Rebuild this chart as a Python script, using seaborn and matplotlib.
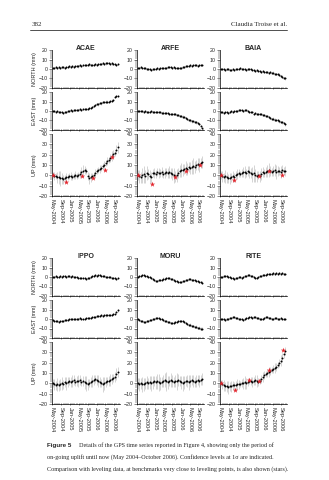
import numpy as np
import pandas as pd
import matplotlib
matplotlib.use("Agg")
import matplotlib.pyplot as plt
import matplotlib.dates as mdates
from matplotlib.ticker import MultipleLocator
from matplotlib.lines import Line2D
import seaborn as sns

# ---------------- data ----------------
TOP_STATIONS = ["ACAE", "ARFE", "BAIA"]
BOTTOM_STATIONS = ["IPPO", "MORU", "RITE"]
COMPONENT_LABELS = ["NORTH (mm)", "EAST (mm)", "UP (mm)"]
SAMPLE_START = "2004-05-03"
N_SAMPLES = 44
SAMPLE_STEP = "21D"

ACAE_N = [1,1,2,1,2,1,2,2,1,2, 2,3,2,3,2,3,3,3,4,3, 4,4,4,4,5,4,4,4,5,4, 5,5,5,6,5,6,6,6,5,6, 5,5,4,5]
ACAE_E = [0,0,-1,0,-1,-1,-1,-2,-1,-1, 0,0,1,0,1,1,1,1,2,1, 2,2,2,2,3,3,4,5,6,7, 7,8,8,9,9,10,10,10,11,11, 12,15,16,16]
ACAE_U = [0,-1,-1,-2,-2,-3,-3,-4,-3,-2, -2,-1,-1,-2,-1,0,-1,0,1,3, 4,5,4,-1,-3,-2,-1,0,2,4, 5,6,7,9,10,12,14,15,17,19, 21,22,25,27]

ARFE_N = [1,1,2,1,1,1,0,0,0,-1, 0,0,0,1,0,1,1,1,1,1, 2,2,2,1,2,1,1,1,1,1, 2,2,3,3,3,4,3,4,4,4, 3,4,4,4]
ARFE_E = [0,0,0,0,-1,0,-1,-1,-1,0, -1,-1,-1,-1,-1,-1,-2,-2,-2,-2, -2,-3,-3,-3,-3,-3,-4,-4,-5,-5, -6,-6,-7,-8,-9,-10,-11,-11,-12,-12, -13,-14,-16,-18]
ARFE_U = [0,-1,-2,0,1,-1,2,1,-1,-2, 2,2,1,3,2,2,3,1,2,3, 2,3,2,1,0,-1,0,2,4,5, 5,6,7,6,8,7,8,9,8,10, 11,10,12,13]

BAIA_N = [0,0,0,-1,0,0,-1,-1,0,-1, 0,0,0,1,0,0,0,-1,0,0, 0,-1,-1,-2,-1,-2,-2,-3,-2,-3, -3,-3,-4,-3,-4,-4,-5,-5,-5,-6, -7,-8,-9,-10]
BAIA_E = [-1,-1,-2,-1,-1,-2,-1,0,-1,0, 0,0,1,1,1,0,1,1,0,-1, -1,-1,-3,-2,-3,-3,-3,-3,-4,-4, -5,-5,-6,-7,-8,-8,-9,-10,-10,-11, -12,-12,-13,-14]
BAIA_U = [0,-1,-2,-1,-2,-3,-3,-2,-1,-2, 0,1,2,1,2,3,3,2,4,3, 2,1,2,0,-1,0,-1,1,3,2, 3,4,5,4,3,4,5,3,4,4, 3,5,4,4]

IPPO_N = [0,0,1,0,0,1,0,1,1,0, 1,1,0,1,0,0,0,-1,-1,-1, -1,-1,-2,-1,-1,0,1,1,2,1, 2,2,1,1,1,0,0,0,0,-1, -1,-1,-2,-1]
IPPO_E = [-1,-2,-2,-2,-3,-2,-2,-2,-1,-1, -1,0,0,0,0,0,0,0,1,0, 0,0,1,1,1,1,2,2,2,3, 3,3,4,3,4,4,4,4,4,4, 5,5,7,9]
IPPO_U = [0,-1,-2,-1,-2,-1,0,-1,1,0, 1,2,1,2,3,1,2,2,3,1, 2,1,0,-1,0,1,2,3,4,3, 2,1,0,-1,0,1,2,2,3,4, 5,6,9,11]

MORU_N = [0,1,1,2,2,1,1,0,0,-1, -2,-3,-4,-4,-3,-3,-3,-2,-2,-1, -1,-1,-2,-2,-3,-4,-4,-5,-5,-5, -4,-4,-3,-3,-2,-2,-3,-3,-3,-4, -4,-5,-5,-6]
MORU_E = [0,-1,-2,-2,-3,-3,-2,-2,-1,-1, 0,0,1,1,1,0,0,-1,-2,-2, -3,-3,-4,-4,-4,-3,-3,-2,-2,-2, -2,-3,-4,-5,-6,-6,-7,-7,-8,-8, -9,-9,-10,-10]
MORU_U = [0,-1,0,-1,-1,0,1,0,1,0, 1,2,1,2,1,0,1,2,3,2, 1,2,3,2,1,2,2,3,2,1, 0,1,2,2,1,2,3,2,1,2, 3,2,3,4]

RITE_N = [0,0,1,1,1,0,0,-1,-1,-2, -1,-1,0,0,-1,0,1,1,2,2, 1,1,0,-1,-1,0,1,1,2,2, 2,3,3,3,3,4,3,4,3,4, 3,4,3,3]
RITE_E = [0,0,0,-1,0,0,1,1,2,2, 1,1,0,0,0,-1,0,1,1,2, 2,1,2,2,1,1,0,0,0,1, 2,2,1,1,0,0,1,1,0,0, 1,0,0,0]
RITE_U = [0,-1,-2,-3,-3,-4,-3,-3,-2,-2, -2,-1,-1,-1,0,0,1,0,1,2, 2,1,2,3,2,1,2,4,6,8, 9,10,11,12,13,14,15,16,18,20, 22,25,28,31]

HZ_ERR = [1.0,1.2,0.9,1.1,1.3,1.0,1.2,1.4,1.1,1.0, 1.2,0.9,1.1,1.3,1.0,1.2,1.1,1.5,1.0,0.9,
          1.1,1.2,1.0,1.3,1.4,1.1,1.0,1.2,0.9,1.1, 1.3,1.0,1.2,1.1,1.0,1.4,1.2,0.9,1.1,1.3,
          1.0,1.2,1.1,1.3]
ACAE_U_ERR = [3,4,3,5,6,7,5,4,3,4, 3,3,4,3,3,4,3,3,4,5, 6,4,3,4,5,4,3,3,4,3, 3,4,3,3,4,3,4,3,4,5, 4,3,4,5]
ARFE_U_ERR = [5,6,5,7,8,6,7,5,6,5, 4,5,4,4,5,4,5,4,5,4, 5,6,5,6,7,5,6,5,6,7, 6,5,7,6,5,6,7,8,6,5, 6,7,5,6]
BAIA_U_ERR = [4,5,4,6,5,4,5,4,5,4, 4,5,4,3,4,5,6,4,5,6, 5,7,8,6,5,4,5,6,5,4, 5,6,7,5,4,5,6,7,5,4, 6,5,4,5]
IPPO_U_ERR = [4,5,4,6,5,5,6,4,5,6, 5,4,5,6,5,4,5,6,5,4, 5,6,7,5,4,5,6,5,4,5, 6,5,4,7,6,5,4,5,6,5, 4,5,6,5]
MORU_U_ERR = [5,6,5,7,6,5,6,5,6,7, 6,5,6,7,8,6,5,6,7,9, 6,5,7,6,5,6,8,6,5,6, 7,6,5,6,7,6,5,6,5,6, 5,6,5,6]
RITE_U_ERR = [3,4,5,4,5,6,4,5,4,3, 4,5,4,3,4,5,6,5,4,3, 4,5,4,5,6,4,3,4,5,4, 3,4,5,4,3,4,5,4,3,4, 5,4,3,4]

# leveling comparison (stars)
ACAE_LEV_DATES = ["2004-05-10", "2004-11-05", "2005-06-20", "2005-11-15", "2006-04-25", "2006-08-01"]
ACAE_LEV = [0, -6, -1, -3, 5, 18]
ARFE_LEV_DATES = ["2004-05-10", "2004-11-18", "2005-10-13", "2006-03-08", "2006-09-24"]
ARFE_LEV = [0, -8, -2, 4, 10]
BAIA_LEV_DATES = ["2004-05-10", "2004-11-10", "2005-10-20", "2006-03-08", "2006-09-10"]
BAIA_LEV = [0, -5, -1, 4, 0]
RITE_LEV_DATES = ["2004-05-10", "2004-11-15", "2005-06-10", "2005-10-20", "2006-03-10", "2006-09-20"]
RITE_LEV = [0, -6, 3, 2, 13, 32]

TICK_LABELS = ["May-2004", "Sep-2004", "Jan-2005", "May-2005", "Sep-2005", "Jan-2006", "May-2006", "Sep-2006"]

SERIES = {
    "ACAE": (ACAE_N, ACAE_E, ACAE_U, ACAE_U_ERR, ACAE_LEV_DATES, ACAE_LEV),
    "ARFE": (ARFE_N, ARFE_E, ARFE_U, ARFE_U_ERR, ARFE_LEV_DATES, ARFE_LEV),
    "BAIA": (BAIA_N, BAIA_E, BAIA_U, BAIA_U_ERR, BAIA_LEV_DATES, BAIA_LEV),
    "IPPO": (IPPO_N, IPPO_E, IPPO_U, IPPO_U_ERR, [], []),
    "MORU": (MORU_N, MORU_E, MORU_U, MORU_U_ERR, [], []),
    "RITE": (RITE_N, RITE_E, RITE_U, RITE_U_ERR, RITE_LEV_DATES, RITE_LEV),
}

dates = pd.date_range(SAMPLE_START, periods=N_SAMPLES, freq=SAMPLE_STEP)

# ---------------- figure ----------------
sns.set_style("ticks")
plt.rcParams["font.family"] = ["Liberation Sans", "DejaVu Sans"]
W, H = 329, 480
fig = plt.figure(figsize=(W / 100, H / 100), dpi=100)

def add_ax(x0, y0, x1, y1):
    return fig.add_axes([x0 / W, 1 - y1 / H, (x1 - x0) / W, (y1 - y0) / H])

COLS = [(52, 120), (137, 204), (220, 287)]
ROWS = [(50, 88), (92, 130), (134, 196)]
GROUP_OFFSETS = [0, 208]
XMIN, XMAX = pd.Timestamp("2004-04-25"), pd.Timestamp("2006-11-20")

for g, stations in enumerate([TOP_STATIONS, BOTTOM_STATIONS]):
    off = GROUP_OFFSETS[g]
    for c, st in enumerate(stations):
        n, e, u, uerr, lev_d, lev_v = SERIES[st]
        x0, x1 = COLS[c]
        fig.text((x0 + x1) / 2 / W, 1 - (48 + off) / H, st, ha="center", va="center",
                 fontsize=5, fontweight="bold", zorder=10)
        for r, (vals, err) in enumerate([(n, HZ_ERR), (e, HZ_ERR), (u, uerr)]):
            y0, y1 = ROWS[r]
            ax = add_ax(x0, y0 + off, x1, y1 + off)
            ax.patch.set_alpha(0)
            df = pd.DataFrame({"date": dates, "val": vals, "err": err})
            ax.errorbar(df["date"], df["val"], yerr=df["err"], fmt="none",
                        ecolor="#b4b4b4", elinewidth=0.4, capsize=0, zorder=1)
            sns.scatterplot(data=df, x="date", y="val", ax=ax, color="black", s=2.0,
                            linewidth=0, marker="o", zorder=3, legend=False)
            if r == 2 and len(lev_v):
                ldf = pd.DataFrame({"date": pd.to_datetime(lev_d), "val": lev_v})
                sns.scatterplot(data=ldf, x="date", y="val", ax=ax, color="#e3262e", s=16,
                                linewidth=0, marker="*", zorder=4, legend=False)
            ax.set_xlim(XMIN, XMAX)
            if r == 2:
                ax.set_ylim(-20, 40)
            else:
                ax.set_ylim(-20, 20)
            ax.yaxis.set_major_locator(MultipleLocator(10))
            ax.yaxis.set_minor_locator(MultipleLocator(2))
            ax.xaxis.set_major_locator(mdates.MonthLocator(bymonth=[1, 5, 9]))
            ax.xaxis.set_minor_locator(mdates.MonthLocator())
            ax.xaxis.set_major_formatter(mdates.DateFormatter("%b-%Y"))
            ax.set_xlabel("")
            ax.set_ylabel(COMPONENT_LABELS[r] if c == 0 else "", fontsize=4.0, labelpad=1.5)
            ax.tick_params(axis="both", which="major", labelsize=3.8, length=2, width=0.4, pad=1)
            ax.tick_params(axis="both", which="minor", length=1.2, width=0.35)
            ax.tick_params(axis="x", which="both", direction="inout")
            if r == 2:
                ax.set_xticks([pd.Timestamp(t.replace("-", " 1 ", 1)) for t in TICK_LABELS])
                ax.set_xticklabels(TICK_LABELS, rotation=270, fontsize=4.1, ha="center", va="top")
            else:
                ax.tick_params(axis="x", labelbottom=False)
            for sp in ["left", "bottom"]:
                ax.spines[sp].set_linewidth(0.5)
                ax.spines[sp].set_color("black")
            sns.despine(ax=ax)

# header
serif = ["Liberation Serif", "DejaVu Serif"]
fig.text(32 / W, 1 - 24 / H, "382", ha="left", va="center", fontsize=5, family=serif)
fig.text(287 / W, 1 - 24 / H, "Claudia Troise et al.", ha="right", va="center", fontsize=5, family=serif)
fig.add_artist(Line2D([30 / W, 287 / W], [1 - 30 / H] * 2, lw=0.6, color="#333333"))

# caption
fig.text(47 / W, 1 - 445 / H, "Figure 5", ha="left", va="center", fontsize=4.5, fontweight="bold")
fig.text(79 / W, 1 - 445 / H, "Details of the GPS time series reported in Figure 4, showing only the period of",
         ha="left", va="center", fontsize=4.4, family=serif)
fig.text(47 / W, 1 - 457 / H, "on-going uplift until now (May 2004\u2013October 2006). Confidence levels at 1\u03c3 are indicated.",
         ha="left", va="center", fontsize=4.4, family=serif)
fig.text(47 / W, 1 - 469 / H, "Comparison with leveling data, at benchmarks very close to leveling points, is also shown (stars).",
         ha="left", va="center", fontsize=4.4, family=serif)

fig.savefig("out.png", dpi=100)
